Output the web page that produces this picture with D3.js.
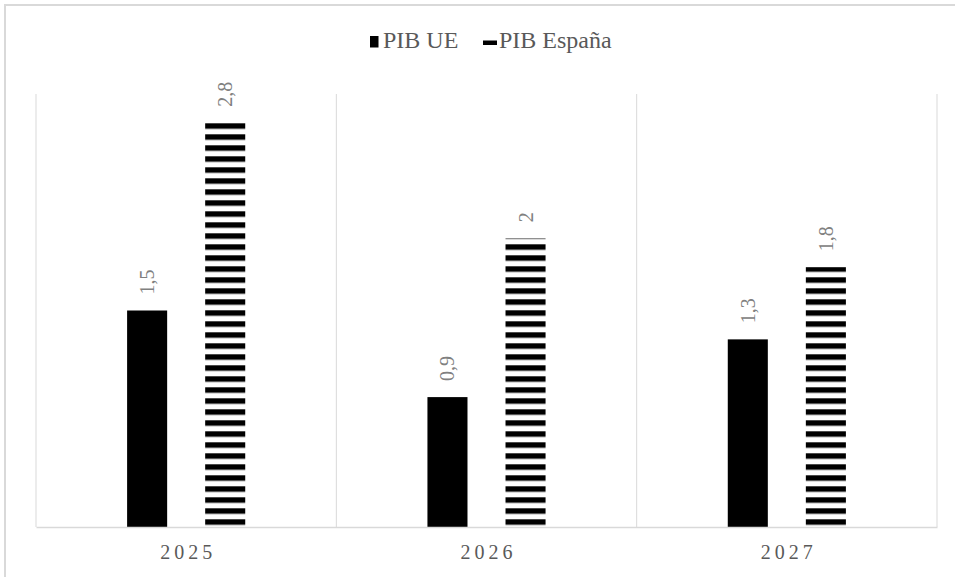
<!DOCTYPE html>
<html>
<head>
<meta charset="utf-8">
<script src="https://cdn.jsdelivr.net/npm/d3@7"></script>
<style>
  html, body { margin: 0; padding: 0; background: #fff; }
  svg { display: block; }
  svg text { font-family: "Liberation Serif", "Times New Roman", Times, serif; }
</style>
</head>
<body>
<div id="chart"></div>
<script>
// ---- Data ----
const categories = ["2025", "2026", "2027"];
const seriesNames = ["PIB UE", "PIB España"];
const pibUE = [1.5, 0.9, 1.3];
const pibEspana = [2.8, 2.0, 1.8];
const valueLabelsUE = ["1,5", "0,9", "1,3"];
const valueLabelsES = ["2,8", "2", "1,8"];

const W = 955, H = 577;
const FONT = '"Liberation Serif", "Times New Roman", Times, serif';
const svg = d3.select("#chart").append("svg").attr("width", W).attr("height", H);

const defs = svg.append("defs");
const pat = defs.append("pattern")
  .attr("id", "hstripes")
  .attr("patternUnits", "userSpaceOnUse")
  .attr("x", 0).attr("y", 2.3)
  .attr("width", 20).attr("height", 11);
pat.append("rect").attr("x", 0).attr("y", 0).attr("width", 20).attr("height", 11).attr("fill", "#fff");
pat.append("rect").attr("x", 0).attr("y", 0).attr("width", 20).attr("height", 5.5).attr("fill", "#000");

// outer frame
svg.append("rect")
  .attr("x", 5).attr("y", 5).attr("width", 1000).attr("height", 1000)
  .attr("fill", "none").attr("stroke", "#d9d9d9").attr("stroke-width", 2);

const plot = { left: 36, right: 937, top: 94, bottom: 527 };

const x = d3.scaleBand().domain(categories).range([plot.left, plot.right]).padding(0);
const xs = d3.scaleBand().domain(seriesNames).range([0, x.bandwidth()])
  .paddingInner(0.487).paddingOuter(1.167);
const y = d3.scaleLinear().domain([0, 3]).range([plot.bottom, plot.top]);

// vertical category separators
const bounds = categories.map(c => x(c)).concat([plot.right]);
svg.append("g").selectAll("line").data(bounds).join("line")
  .attr("x1", d => d).attr("x2", d => d)
  .attr("y1", y(3)).attr("y2", y(0))
  .attr("stroke", "#d9d9d9").attr("stroke-width", 1);

// data
const rows = categories.map((c, i) => ({
  cat: c,
  vals: [
    { s: seriesNames[0], v: pibUE[i], lab: valueLabelsUE[i] },
    { s: seriesNames[1], v: pibEspana[i], lab: valueLabelsES[i] }
  ]
}));

const g = svg.append("g");
const grp = g.selectAll("g.cat").data(rows).join("g")
  .attr("class", "cat")
  .attr("transform", d => `translate(${x(d.cat)},0)`);

grp.selectAll("rect").data(d => d.vals).join("rect")
  .attr("x", d => xs(d.s))
  .attr("width", xs.bandwidth())
  .attr("y", d => y(d.v))
  .attr("height", d => y(0) - y(d.v))
  .attr("fill", d => d.s === seriesNames[0] ? "#000" : "url(#hstripes)");

grp.selectAll("text").data(d => d.vals).join("text")
  .attr("transform", d => `translate(${xs(d.s) + xs.bandwidth() / 2},${y(d.v) - 16}) rotate(-90)`)
  .attr("text-anchor", "start")
  .attr("dominant-baseline", "central")
  .style("font-family", FONT)
  .style("font-size", "20px")
  .attr("fill", "#808080")
  .text(d => d.lab);

// x axis
const xAxis = d3.axisBottom(x).tickSize(0).tickPadding(0);
const ax = svg.append("g").attr("transform", `translate(0,${plot.bottom})`).call(xAxis);
ax.attr("font-family", null).attr("font-size", null);
ax.select(".domain").attr("stroke", "#d9d9d9").attr("stroke-width", 1.5);
ax.selectAll(".tick text")
  .attr("y", 32)
  .attr("dy", 0)
  .attr("dx", 2)
  .style("font-family", FONT)
  .style("font-size", "20px")
  .style("letter-spacing", "4px")
  .attr("fill", "#595959");

// legend
const legend = svg.append("g");
legend.append("rect").attr("x", 370).attr("y", 36).attr("width", 8.5).attr("height", 11.5).attr("fill", "#000");
legend.append("text").attr("x", 383).attr("y", 47.7).style("font-family", FONT).style("font-size", "24px").attr("fill", "#595959").text(seriesNames[0]);
legend.append("rect").attr("x", 483).attr("y", 40.5).attr("width", 14).attr("height", 4.5).attr("fill", "#000");
legend.append("text").attr("x", 499).attr("y", 47.7).style("font-family", FONT).style("font-size", "24px").attr("fill", "#595959").text(seriesNames[1]);
</script>
</body>
</html>
